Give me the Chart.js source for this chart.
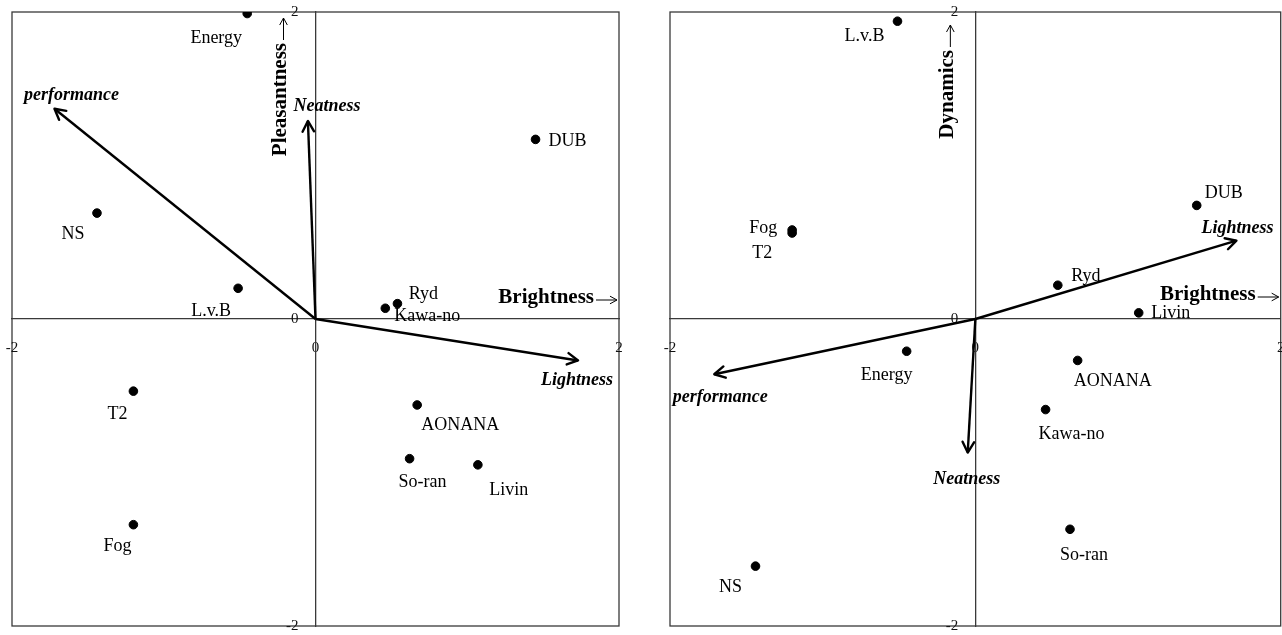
<!DOCTYPE html>
<html>
<head>
<meta charset="utf-8">
<script src="https://cdn.jsdelivr.net/npm/chart.js@4.4.0/dist/chart.umd.min.js"></script>
<style>
    html, body { margin: 0; padding: 0; background: #fff; overflow: hidden; }
    .panel { position: absolute; top: 0; height: 635px; }
    #panel_left { left: 0; width: 641px; }
    #panel_right { left: 641px; width: 645px; }
</style>
</head>
<body>
<div class="panel" id="panel_left"><canvas id="chart_left"></canvas></div>
<div class="panel" id="panel_right"><canvas id="chart_right"></canvas></div>
<script>
// samples, same order in both maps
const samples = ['Energy', 'NS', 'L.v.B', 'Ryd', 'Kawa-no', 'DUB', 'T2', 'Fog', 'AONANA', 'So-ran', 'Livin'];

// horizontal axis shared by both maps
const brightness = [-0.45, -1.44, -0.51, 0.54, 0.46, 1.45, -1.20, -1.20, 0.67, 0.62, 1.07];
// vertical axis of each map
const pleasantness = [1.99, 0.69, 0.20, 0.10, 0.07, 1.17, -0.47, -1.34, -0.56, -0.91, -0.95];
const dynamics = [-0.21, -1.61, 1.94, 0.22, -0.59, 0.74, 0.56, 0.58, -0.27, -1.37, 0.04];

// fitted attribute vectors
const vectors = ['performance', 'Neatness', 'Lightness'];
const vecLeftX = [-1.72, -0.05, 1.73];
const vecLeftY = [1.37, 1.29, -0.27];
const vecRightX = [-1.71, -0.05, 1.71];
const vecRightY = [-0.36, -0.87, 0.51];

const axisTicks = [-2, 0, 2];

// where each text sits relative to its mark (pixels)
const labelOffsetLeft = [[-31, 25], [-24, 21], [-27, 23], [26, -9], [42, 8], [32, 2], [-16, 23], [-16, 22], [43, 20], [13, 24], [31, 25]];
const labelOffsetRight = [[-20, 24], [-25, 21], [-33, 15], [28, -9], [26, 25], [27, -12], [-30, 20], [-29, -2], [35, 21], [14, 26], [32, 0]];
const vecOffsetLeft = [[17, -13], [19, -15], [-1, 20]];
const vecOffsetRight = [[6, 23], [-1, 27], [1, -12]];

const FONT = "'Liberation Serif', 'Times New Roman', serif";

function drawHead(ctx, x0, y0, x1, y1, len, spread) {
    const a = Math.atan2(y1 - y0, x1 - x0);
    ctx.beginPath();
    ctx.moveTo(x1 - len * Math.cos(a - spread), y1 - len * Math.sin(a - spread));
    ctx.lineTo(x1, y1);
    ctx.lineTo(x1 - len * Math.cos(a + spread), y1 - len * Math.sin(a + spread));
    ctx.stroke();
}

const biplotPlugin = {
    id: 'biplot',
    // move the vertical axis onto x = 0 so its line and tick labels sit in the middle
    afterLayout(chart) {
        const ys = chart.scales.y;
        const x0 = chart.scales.x.getPixelForValue(0);
        ys.left = x0 - 60;   // room for the tick labels (they are clipped to the scale box)
        ys.right = x0;
        ys._labelItems = null;
        ys._gridLineItems = null;
    },
    beforeDraw(chart) {
        const { ctx, chartArea: a } = chart;
        ctx.save();
        ctx.strokeStyle = '#3a3a3a';
        ctx.lineWidth = 1.3;
        ctx.strokeRect(a.left, a.top, a.right - a.left, a.bottom - a.top);
        ctx.restore();
    },
    afterDatasetsDraw(chart, args, opts) {
        const ctx = chart.ctx;
        const xs = chart.scales.x, ys = chart.scales.y;
        ctx.save();
        ctx.fillStyle = '#000';
        ctx.strokeStyle = '#000';
        ctx.textBaseline = 'middle';
        ctx.textAlign = 'center';

        chart.data.datasets.forEach((ds, i) => {
            const meta = chart.getDatasetMeta(i);
            if (ds.isVector) {
                const p0 = meta.data[0], p1 = meta.data[1];
                ctx.lineWidth = 2.4;
                ctx.lineCap = 'round';
                ctx.lineJoin = 'round';
                drawHead(ctx, p0.x, p0.y, p1.x, p1.y, 12, 0.5);
                ctx.font = 'italic bold 18px ' + FONT;
                ctx.fillText(ds.label, p1.x + ds.offset[0], p1.y + ds.offset[1]);
            } else {
                ctx.font = '18px ' + FONT;
                meta.data.forEach((pt, j) => {
                    const off = ds.offsets[j];
                    ctx.fillText(ds.names[j], pt.x + off[0], pt.y + off[1]);
                });
            }
        });

        // horizontal axis name with thin arrow
        const hy = ys.getPixelForValue(0) + opts.hTitleDy;
        const hx = chart.chartArea.right - 2;
        ctx.lineWidth = 1;
        ctx.lineCap = 'butt';
        ctx.beginPath();
        ctx.moveTo(hx - 21, hy + 2);
        ctx.lineTo(hx, hy + 2);
        ctx.stroke();
        drawHead(ctx, hx - 21, hy + 2, hx, hy + 2, 8, 0.5);
        ctx.font = 'bold 21px ' + FONT;
        ctx.textAlign = 'right';
        ctx.fillText(opts.hTitle, hx - 23, hy);

        // vertical axis name, rotated, arrow pointing up
        const vx = xs.getPixelForValue(0) + opts.vTitleDx;
        const tip = chart.chartArea.top + opts.vTitleTip;
        ctx.beginPath();
        ctx.moveTo(vx + 3, tip + 22);
        ctx.lineTo(vx + 3, tip);
        ctx.stroke();
        drawHead(ctx, vx + 3, tip + 22, vx + 3, tip, 8, 0.5);
        ctx.save();
        ctx.translate(vx, tip + 25);
        ctx.rotate(-Math.PI / 2);
        ctx.textAlign = 'left';
        ctx.font = 'bold 21px ' + FONT;
        ctx.fillText(opts.vTitle, -ctx.measureText(opts.vTitle).width, 0);
        ctx.restore();

        ctx.restore();
    }
};

function makeScale(isX) {
    return {
        type: 'linear',
        min: -2,
        max: 2,
        position: isX ? { y: 0 } : 'left',
        afterBuildTicks: (s) => { s.ticks = axisTicks.map(v => ({ value: v })); },
        grid: { display: false, drawTicks: false },
        border: { display: true, color: '#3a3a3a', width: 1.3 },
        ticks: {
            padding: isX ? 20 : 17,
            color: '#111',
            font: { family: FONT, size: 15 },
            maxRotation: 0,
            autoSkip: false
        },
        afterFit: (s) => {
            if (isX) { s.height = 0; } else { s.width = 0; }
            s.paddingLeft = 0; s.paddingRight = 0; s.paddingTop = 0; s.paddingBottom = 0;
        }
    };
}

function biplot(canvasId, yValues, vecX, vecY, offsets, vecOffsets, opts, padding) {
    const ctx = document.getElementById(canvasId).getContext('2d');

    const datasets = [{
        type: 'scatter',
        data: samples.map((name, i) => ({ x: brightness[i], y: yValues[i] })),
        names: samples,
        offsets: offsets,
        backgroundColor: '#000',
        borderColor: '#000',
        pointRadius: 4.3,
        pointHoverRadius: 4.3
    }];

    vectors.forEach((name, i) => {
        datasets.push({
            type: 'line',
            label: name,
            isVector: true,
            offset: vecOffsets[i],
            data: [{ x: 0, y: 0 }, { x: vecX[i], y: vecY[i] }],
            borderColor: '#000',
            borderWidth: 2.4,
            pointRadius: 0,
            fill: false,
            tension: 0
        });
    });

    return new Chart(ctx, {
        type: 'scatter',
        data: { datasets: datasets },
        options: {
            responsive: true,
            maintainAspectRatio: false,
            animation: false,
            layout: { padding: padding },
            scales: {
                x: makeScale(true),
                y: makeScale(false)
            },
            plugins: {
                legend: { display: false },
                tooltip: { enabled: false },
                biplot: opts
            }
        },
        plugins: [biplotPlugin]
    });
}

biplot('chart_left', pleasantness, vecLeftX, vecLeftY, labelOffsetLeft, vecOffsetLeft,
    { hTitle: 'Brightness', hTitleDy: -21, vTitle: 'Pleasantness', vTitleDx: -35, vTitleTip: 6 },
    { left: 12, top: 12, right: 22, bottom: 9 });

biplot('chart_right', dynamics, vecRightX, vecRightY, labelOffsetRight, vecOffsetRight,
    { hTitle: 'Brightness', hTitleDy: -24, vTitle: 'Dynamics', vTitleDx: -28, vTitleTip: 13 },
    { left: 29, top: 12, right: 2, bottom: 9 });
</script>
</body>
</html>
